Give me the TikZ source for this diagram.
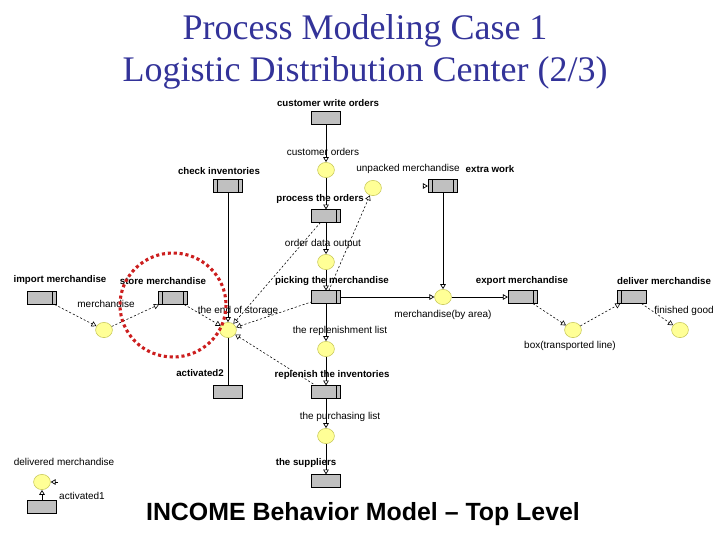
\documentclass[tikz,border=0pt]{standalone}
\usepackage{fontspec}
\setmainfont{Liberation Serif}
\setsansfont{Liberation Sans}
\usetikzlibrary{arrows.meta, positioning, shapes.geometric}
\definecolor{titleblue}{RGB}{51,51,153}
\definecolor{placeyellow}{RGB}{255,255,150}
\definecolor{placeedge}{RGB}{200,200,90}
\definecolor{transgray}{RGB}{192,192,192}
\definecolor{markred}{RGB}{204,30,30}

\tikzset{
  trans/.style={draw, fill=transgray, minimum width=0.74cm, minimum height=0.31cm, inner sep=0pt, line width=0.5pt},
  rbar/.style={path picture={\draw ([xshift=-3pt]path picture bounding box.north east) -- ([xshift=-3pt]path picture bounding box.south east);}},
  lbar/.style={path picture={\draw ([xshift=3pt]path picture bounding box.north west) -- ([xshift=3pt]path picture bounding box.south west);}},
  lrbar/.style={path picture={\draw ([xshift=3pt]path picture bounding box.north west) -- ([xshift=3pt]path picture bounding box.south west);
                              \draw ([xshift=-3pt]path picture bounding box.north east) -- ([xshift=-3pt]path picture bounding box.south east);}},
  place/.style={ellipse, draw=placeedge, fill=placeyellow, minimum width=0.42cm, minimum height=0.38cm, inner sep=0pt},
  lbl/.style={font=\sffamily\fontsize{7.1}{8}\selectfont},
  tlbl/.style={font=\sffamily\bfseries\fontsize{6.9}{8}\selectfont},
  arc/.style={-{Triangle[open,length=3.5pt,width=4pt]}, line width=0.5pt},
  darc/.style={arc, dash pattern=on 1.5pt off 1.4pt, line width=0.4pt},
}

\begin{document}
\begin{tikzpicture}[x=0.025cm, y=-0.025cm]
  \useasboundingbox (0,0) rectangle (720,540);
  % titles
  \node[font=\fontsize{25.6}{30}\selectfont, text=titleblue] (title1) at (365,31) {Process Modeling Case 1};
  \node[font=\fontsize{25.6}{30}\selectfont, text=titleblue] (title2) at (365,73) {Logistic Distribution Center (2/3)};
  \node[font=\sffamily\bfseries\fontsize{17.7}{20}\selectfont] (subtitle) at (363,514) {INCOME Behavior Model -- Top Level};

  % main column
  \node[trans] (cwo) at (326,118) {};
  \node[tlbl] at (328,103) {customer write orders};
  \node[place] (co) at (326,170) {};
  \node[lbl] at (323,152) {customer orders};
  \node[trans, rbar] (pto) at (326,216) {};
  \node[tlbl] at (320,199) {process the orders};
  \node[place] (odo) at (326,262) {};
  \node[lbl] at (323,244) {order data output};
  \node[trans, rbar] (pick) at (326,297) {};
  \node[tlbl] at (332,281) {picking the merchandise};
  \node[place] (rl) at (326,349) {};
  \node[lbl] at (340,331) {the replenishment list};
  \node[trans, rbar] (rep) at (326,392) {};
  \node[tlbl] at (332,375) {replenish the inventories};
  \node[place] (pl) at (326,436) {};
  \node[lbl] at (340,417) {the purchasing list};
  \node[trans] (sup) at (326,481) {};
  \node[tlbl] at (306,463) {the suppliers};

  % right part
  \node[place] (um) at (373,188) {};
  \node[lbl] at (408,169) {unpacked merchandise};
  \node[trans, lrbar] (ew) at (443,186) {};
  \node[tlbl] at (490,169) {extra work};
  \node[place] (mba) at (443,297) {};
  \node[lbl] at (443,315) {merchandise(by area)};
  \node[trans, rbar] (exp) at (523,297) {};
  \node[tlbl] at (522,281) {export merchandise};
  \node[place] (box) at (573,330) {};
  \node[lbl] at (570,346) {box(transported line)};
  \node[trans, lbar] (del) at (632,297) {};
  \node[tlbl] at (664,281) {deliver merchandise};
  \node[place] (fg) at (680,330) {};
  \node[lbl] at (684,311) {finished good};

  % left part
  \node[trans, lrbar] (chk) at (228,186) {};
  \node[tlbl] at (219,171) {check inventories};
  \node[place] (hub) at (228,330) {};
  \node[lbl] at (238,311) {the end of storage};
  \node[trans, lrbar] (sto) at (173,298) {};
  \node[tlbl] at (163,281) {store merchandise};
  \node[trans, rbar] (imp) at (42,298) {};
  \node[tlbl] at (60,280) {import merchandise};
  \node[place] (mer) at (104,330) {};
  \node[lbl] at (106,304) {merchandise};
  \node[trans] (act2) at (228,392) {};
  \node[tlbl] at (200,373) {activated2};
  \node[place] (dm) at (42,482) {};
  \node[lbl] at (64,462) {delivered merchandise};
  \node[trans] (act1) at (42,507) {};
  \node[lbl] at (82,496) {activated1};

  % solid arcs
  \draw[arc] (cwo) -- (co);
  \draw[arc] (co) -- (pto);
  \draw[arc] (pto) -- (odo);
  \draw[arc] (odo) -- (pick);
  \draw[arc] (pick) -- (rl);
  \draw[arc] (rl) -- (rep);
  \draw[arc] (rep) -- (pl);
  \draw[arc] (pl) -- (sup);
  \draw[arc] (pick) -- (mba);
  \draw[arc] (ew) -- (mba);
  \draw[arc] (mba) -- (exp);
  \draw[arc, {Triangle[open,length=3.5pt,width=4pt]}-] (hub) -- (chk);
  \draw[line width=0.5pt] (hub) -- (act2);
  \draw[arc] (act1) -- (dm);
  \coordinate (ewin) at (423,186);
  \draw[arc] (ewin) -- (ew);
  \coordinate (dmin) at (58,482);
  \draw[arc] (dmin) -- (dm);

  % dashed arcs
  \draw[darc] (exp) -- (box);
  \draw[darc] (box) -- (del);
  \draw[darc] (del) -- (fg);
  \draw[darc] (pto) -- (hub);
  \draw[darc, {Triangle[open,length=3.5pt,width=4pt]}-] (hub) -- (pick);
  \draw[darc] (pick) -- (um);
  \draw[darc, {Triangle[open,length=3.5pt,width=4pt]}-] (hub) -- (rep);
  \draw[darc] (mer) -- (sto);
  \draw[darc] (imp) -- (mer);
  \draw[darc] (sto) -- (hub);

  % highlight
  \draw[markred, line width=2.2pt, dotted] (173,305) ellipse [x radius=53, y radius=52];
\end{tikzpicture}
\end{document}
